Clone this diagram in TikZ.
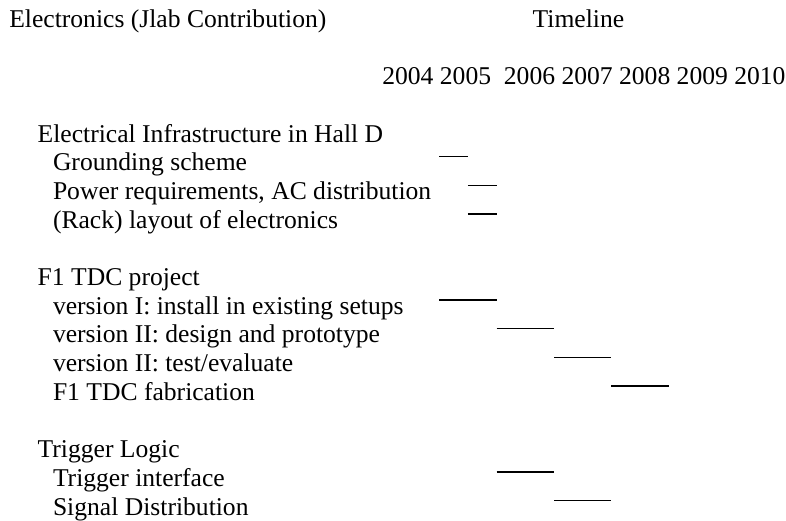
\documentclass[tikz,border=0pt]{standalone}
\usepackage{fontspec}
\setmainfont{Liberation Serif}
\begin{document}
\begin{tikzpicture}[x=1pt,y=-1pt,
  txt/.style={anchor=base west,inner sep=0pt,outer sep=0pt,font=\fontsize{25.6pt}{28.7pt}\selectfont},
  bar/.style={line width=1.3pt,black}]
\useasboundingbox (0,0) rectangle (786,521);
\def\rowy#1{\fpeval{27.3+28.69*(#1)}}
\def\barx#1{\fpeval{439.3+57.35*((#1)-2005)}}
\def\bary#1{\fpeval{27.3+28.69*(#1)-14.2}}
% headings
\node[txt] (title) at (9.3,\rowy{0}) {Electronics (Jlab Contribution)};
\node[txt] (timeline) at (532.7,\rowy{0}) {Timeline};
\node[txt] (years) at (382.3,\rowy{2}) {2004 2005\ \ 2006 2007 2008 2009 2010};
% items
\node[txt] (elec) at (37.7,\rowy{4}) {Electrical Infrastructure in Hall D};
\node[txt] (ground) at (53,\rowy{5}) {Grounding scheme};
\node[txt] (power) at (53,\rowy{6}) {Power requirements, AC distribution};
\node[txt] (rack) at (53,\rowy{7}) {(Rack) layout of electronics};
\node[txt] (f1) at (37.7,\rowy{9}) {F1 TDC project};
\node[txt] (v1) at (53,\rowy{10}) {version I: install in existing setups};
\node[txt] (v2d) at (53,\rowy{11}) {version II: design and prototype};
\node[txt] (v2t) at (53,\rowy{12}) {version II: test/evaluate};
\node[txt] (fab) at (53,\rowy{13}) {F1 TDC fabrication};
\node[txt] (trig) at (37.7,\rowy{15}) {Trigger Logic};
\node[txt] (tint) at (53,\rowy{16}) {Trigger interface};
\node[txt] (sig) at (53,\rowy{17}) {Signal Distribution};
% bars
\draw[bar] (\barx{2005},\bary{5}) -- (\barx{2005.5},\bary{5});
\draw[bar] (\barx{2005.5},\bary{6}) -- (\barx{2006},\bary{6});
\draw[bar] (\barx{2005.5},\bary{7}) -- (\barx{2006},\bary{7});
\draw[bar] (\barx{2005},\bary{10}) -- (\barx{2006},\bary{10});
\draw[bar] (\barx{2006},\bary{11}) -- (\barx{2007},\bary{11});
\draw[bar] (\barx{2007},\bary{12}) -- (\barx{2008},\bary{12});
\draw[bar] (\barx{2008},\bary{13}) -- (\barx{2009},\bary{13});
\draw[bar] (\barx{2006},\bary{16}) -- (\barx{2007},\bary{16});
\draw[bar] (\barx{2007},\bary{17}) -- (\barx{2008},\bary{17});
\end{tikzpicture}
\end{document}
